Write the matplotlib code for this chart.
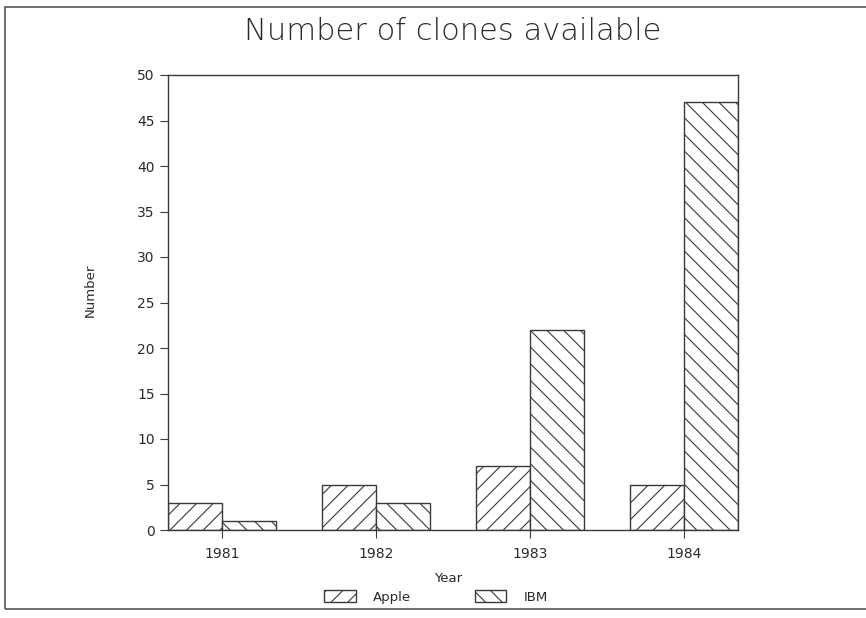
import matplotlib
matplotlib.use("Agg")
import matplotlib.pyplot as plt
import numpy as np
from matplotlib.patches import Rectangle

years = ["1981", "1982", "1983", "1984"]
apple = [3, 5, 7, 5]
ibm = [1, 3, 22, 47]
yticks = [0, 5, 10, 15, 20, 25, 30, 35, 40, 45, 50]

plt.rcParams['hatch.linewidth'] = 0.8
ink = "#3a3a3a"
txt = "#2a2a2a"

fig = plt.figure(figsize=(8.66, 6.18), dpi=100)
W, H = 866, 618
ax = fig.add_axes([168 / W, 1 - 530 / H, (738 - 168) / W, (530 - 75) / H])

x = np.arange(len(years))
w = 0.35
b1 = ax.bar(x - w / 2, apple, w, facecolor="white", edgecolor=ink, hatch="//", linewidth=1.0, label="Apple")
b2 = ax.bar(x + w / 2, ibm, w, facecolor="white", edgecolor=ink, hatch="\\\\", linewidth=1.0, label="IBM")

ax.set_xlim(-0.35, 3.35)
ax.set_ylim(0, 50)
ax.set_yticks(yticks)
ax.set_xticks(x)
ax.set_xticklabels(years)
for s in ax.spines.values():
    s.set_color(ink)
    s.set_linewidth(1.0)
ax.tick_params(axis="both", colors=ink, labelcolor=txt, labelsize=10, direction="out", length=6, width=0.8)
ax.tick_params(axis="x", pad=6)

fig.text(453 / W, 1 - 32 / H, "Number of clones available", ha="center", va="center", fontsize=22,
         color=txt, fontweight="light")
fig.text(90 / W, 1 - 290 / H, "Number", rotation=90, ha="center", va="center", fontsize=9.5, color=txt)
fig.text(448 / W, 1 - 579 / H, "Year", ha="center", va="center", fontsize=9.5, color=txt)

leg = fig.legend(handles=[b1, b2], labels=["Apple", "IBM"], loc="center", bbox_to_anchor=(436 / W, 1 - 597 / H),
                 ncol=2, frameon=False, fontsize=9.5, handlelength=2.4, handleheight=1.0, columnspacing=4.8,
                 handletextpad=1.3)
for t in leg.get_texts():
    t.set_color(txt)

# outer frame of the scanned page
fig.add_artist(Rectangle((5 / W, 1 - 609 / H), 1.2, (609 - 7) / H, transform=fig.transFigure,
                         fill=False, edgecolor="#555555", linewidth=1.2))

fig.savefig("out.png", dpi=100, facecolor="white")
